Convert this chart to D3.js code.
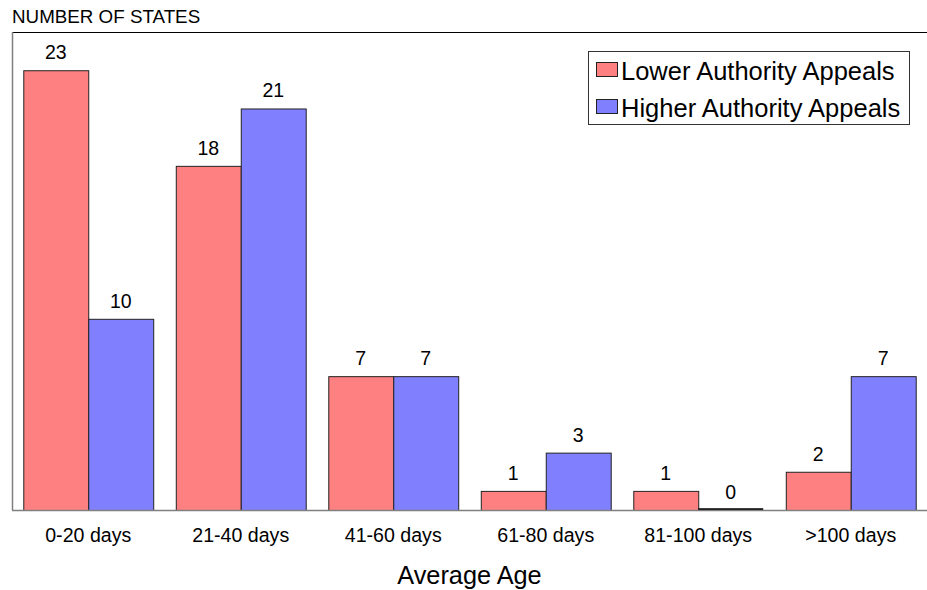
<!DOCTYPE html>
<html>
<head>
<meta charset="utf-8">
<script src="https://cdn.jsdelivr.net/npm/d3@7/dist/d3.min.js"></script>
<style>
  html, body { margin: 0; padding: 0; background: #fff; }
  svg { display: block; font-family: "Liberation Sans", Arial, sans-serif; }
</style>
</head>
<body>
<svg id="chart" width="927" height="590"></svg>
<script>
// Average age buckets and number of states per appeal type
const categories = ["0-20 days", "21-40 days", "41-60 days", "61-80 days", "81-100 days", ">100 days"];
const seriesNames = ["Lower Authority Appeals", "Higher Authority Appeals"];
const lowerAuthority = [23, 18, 7, 1, 1, 2];
const higherAuthority = [10, 21, 7, 3, 0, 7];
const seriesColors = ["#FF8080", "#8080FF"];

const svg = d3.select("#chart");
const plotLeft = 12, plotRight = 927, plotTop = 32, plotBottom = 510;

const x0 = d3.scaleBand().domain(categories).range([plotLeft, plotRight]).paddingInner(0.148).paddingOuter(0.074);
const x1 = d3.scaleBand().domain(seriesNames).range([0, x0.bandwidth()]);
const y = d3.scaleLinear().domain([0, 25]).range([plotBottom, plotTop]);

const rows = categories.map((c, i) => ({ cat: c, vals: [lowerAuthority[i], higherAuthority[i]] }));

// frame lines
svg.append("line").attr("x1", plotLeft).attr("x2", plotRight).attr("y1", plotTop + 0.5).attr("y2", plotTop + 0.5)
  .attr("stroke", "#000").attr("stroke-width", 1);
svg.append("line").attr("x1", plotLeft + 0.5).attr("x2", plotLeft + 0.5).attr("y1", plotTop).attr("y2", plotBottom)
  .attr("stroke", "#808080").attr("stroke-width", 1.5);

// bars
const groups = svg.selectAll("g.grp").data(rows).join("g")
  .attr("class", "grp")
  .attr("transform", d => `translate(${x0(d.cat)},0)`);

groups.each(function(d) {
  const g = d3.select(this);
  d.vals.forEach((v, k) => {
    const bx = x1(seriesNames[k]);
    if (v > 0) {
      g.append("rect")
        .attr("x", bx + 0.5).attr("y", y(v) + 0.5)
        .attr("width", x1.bandwidth()).attr("height", y(0) - y(v))
        .attr("fill", seriesColors[k]).attr("stroke", "#222").attr("stroke-width", 1);
    } else {
      g.append("line")
        .attr("x1", bx).attr("x2", bx + x1.bandwidth())
        .attr("y1", y(0) - 0.5).attr("y2", y(0) - 0.5)
        .attr("stroke", "#000").attr("stroke-width", 2.5);
    }
    g.append("text")
      .attr("x", bx + x1.bandwidth() / 2)
      .attr("y", y(v) - 11)
      .attr("text-anchor", "middle")
      .attr("font-size", "19.5px")
      .attr("fill", "#000")
      .text(v);
  });
});

// baseline
svg.append("line").attr("x1", plotLeft).attr("x2", plotRight).attr("y1", plotBottom + 0.5).attr("y2", plotBottom + 0.5)
  .attr("stroke", "#808080").attr("stroke-width", 1.5);

// category labels
svg.selectAll("text.cat").data(categories).join("text")
  .attr("class", "cat")
  .attr("x", d => x0(d) + x0.bandwidth() / 2)
  .attr("y", 542)
  .attr("text-anchor", "middle")
  .attr("font-size", "19.6px")
  .text(d => d);

// axis titles
svg.append("text").attr("x", (plotLeft + plotRight) / 2).attr("y", 583.5)
  .attr("text-anchor", "middle").attr("font-size", "25.3px").text("Average Age");
svg.append("text").attr("x", plotLeft).attr("y", 22.5)
  .attr("font-size", "18.8px").text("NUMBER OF STATES");

// legend
const lg = svg.append("g");
lg.append("rect").attr("x", 588.5).attr("y", 51.5).attr("width", 321).attr("height", 73)
  .attr("fill", "#fff").attr("stroke", "#333").attr("stroke-width", 1);
seriesNames.forEach((name, k) => {
  const cy = 70 + k * 37;
  lg.append("rect").attr("x", 596.5).attr("y", cy - 7.5).attr("width", 21).attr("height", 14)
    .attr("fill", seriesColors[k]).attr("stroke", "#222").attr("stroke-width", 1);
  lg.append("text").attr("x", 621).attr("y", cy + 9.5)
    .attr("font-size", "25.5px").text(name);
});
</script>
</body>
</html>
